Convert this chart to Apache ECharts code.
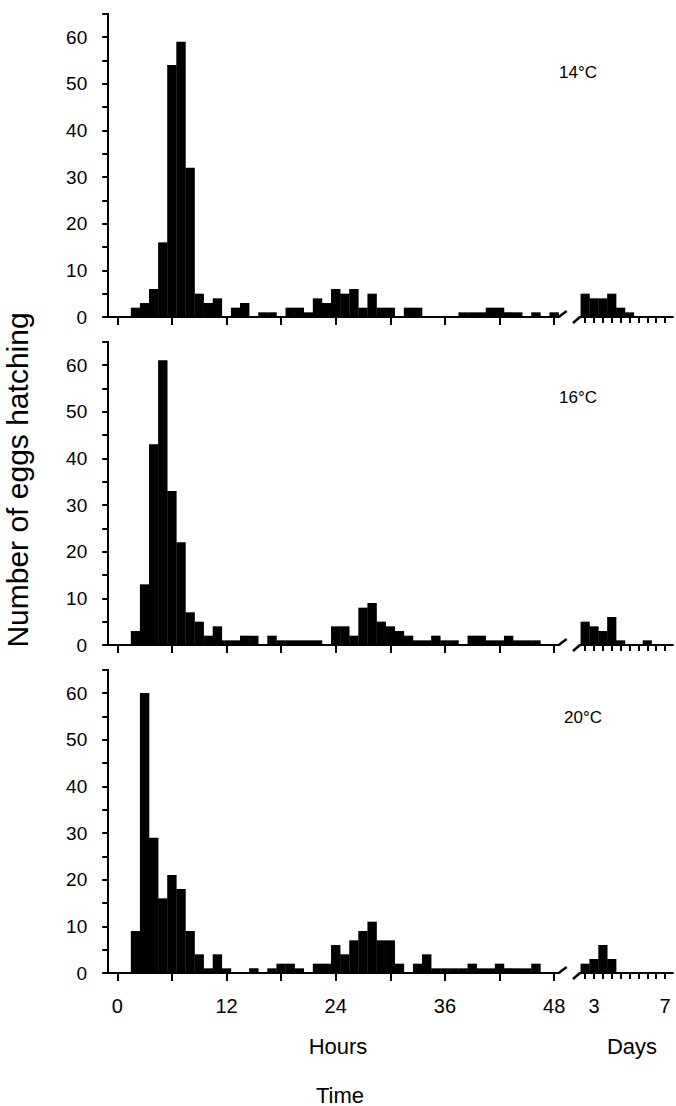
<!DOCTYPE html>
<html>
<head>
<meta charset="utf-8">
<script src="https://cdn.jsdelivr.net/npm/echarts@6/dist/echarts.min.js"></script>
<style>
  html, body { margin: 0; padding: 0; background: #fff; }
  #chart { width: 676px; height: 1106px; }
</style>
</head>
<body>
<div id="chart"></div>
<script>
(function() {
  var font = '"Liberation Sans", Arial, sans-serif';
  var ink = '#000';

  // hourly bins (centred on the hour)
  var hourBins = [0, 1, 2, 3, 4, 5, 6, 7, 8, 9, 10, 11, 12, 13, 14, 15, 16, 17, 18, 19, 20,
    21, 22, 23, 24, 25, 26, 27, 28, 29, 30, 31, 32, 33, 34, 35, 36, 37, 38, 39, 40,
    41, 42, 43, 44, 45, 46, 47, 48];
  var hours14 = [0, 0, 2, 3, 6, 16, 54, 59, 32, 5, 3, 4, 0, 2, 3, 0, 1, 1, 0, 2, 2,
    1, 4, 3, 6, 5, 6, 2, 5, 2, 2, 0, 2, 2, 0, 0, 0, 0, 1, 1, 1,
    2, 2, 1, 1, 0, 1, 0, 1];
  var hours16 = [0, 0, 3, 13, 43, 61, 33, 22, 7, 5, 2, 4, 1, 1, 2, 2, 0, 2, 1, 1, 1,
    1, 1, 0, 4, 4, 2, 8, 9, 5, 4, 3, 2, 1, 1, 2, 1, 1, 0, 2, 2,
    1, 1, 2, 1, 1, 1, 0, 0];
  var hours20 = [0, 0, 9, 60, 29, 16, 21, 18, 9, 4, 1, 4, 1, 0, 0, 1, 0, 1, 2, 2, 1,
    0, 2, 2, 6, 4, 7, 9, 11, 7, 7, 2, 0, 2, 4, 1, 1, 1, 1, 2, 1,
    1, 2, 1, 1, 1, 2, 0, 0];

  // half-day bins after the axis break
  var dayBins = [2.5, 3, 3.5, 4, 4.5, 5, 5.5, 6, 6.5, 7];
  var days14 = [5, 4, 4, 5, 2, 1, 0, 0, 0, 0];
  var days16 = [5, 4, 3, 6, 1, 0, 0, 1, 0, 0];
  var days20 = [2, 3, 6, 3, 0, 0, 0, 0, 0, 0];

  var hourTicks = [0, 6, 12, 18, 24, 30, 36, 42, 48];
  var hourLabels = [0, 12, 24, 36, 48];
  var dayTicks = [2.5, 3, 3.5, 4, 4.5, 5, 5.5, 6, 6.5, 7];
  var dayLabels = [3, 7];
  var temps = ['14°C', '16°C', '20°C'];

  var panels = [
    { top: 13.7, hours: hours14, days: days14, label: [578, 72] },
    { top: 341.7, hours: hours16, days: days16, label: [578, 397] },
    { top: 669.7, hours: hours20, days: days20, label: [583, 717] }
  ];
  var panelHeight = 303.3;

  function pairs(xs, ys) {
    return xs.map(function(x, k) { return [x, ys[k]]; });
  }

  var grids = [], xAxes = [], yAxes = [], series = [];
  panels.forEach(function(p, i) {
    var last = i === panels.length - 1;
    grids.push({ left: 108.2, width: 450.5, top: p.top, height: panelHeight });
    grids.push({ left: 580, width: 93, top: p.top, height: panelHeight });

    xAxes.push({
      type: 'value', gridIndex: 2 * i, min: -1, max: 48.5,
      axisLine: { onZero: false, lineStyle: { color: ink, width: 2 } },
      axisTick: { customValues: hourTicks, length: 8, lineStyle: { color: ink, width: 2 } },
      axisLabel: { show: last, customValues: hourLabels, color: ink, fontSize: 20,
        fontFamily: font, margin: 23 },
      splitLine: { show: false }
    });
    xAxes.push({
      type: 'value', gridIndex: 2 * i + 1, min: 2.21, max: 7.45,
      axisLine: { onZero: false, lineStyle: { color: ink, width: 2 } },
      axisTick: { customValues: dayTicks, length: 6, lineStyle: { color: ink, width: 2 } },
      axisLabel: { show: last, customValues: dayLabels, color: ink, fontSize: 20,
        fontFamily: font, margin: 23 },
      splitLine: { show: false }
    });

    yAxes.push({
      type: 'value', gridIndex: 2 * i, min: 0, max: 65, interval: 5,
      axisLine: { show: true, onZero: false, lineStyle: { color: ink, width: 2 } },
      axisTick: { show: true, length: 6, lineStyle: { color: ink, width: 2 } },
      axisLabel: {
        color: ink, fontSize: 19, fontFamily: font, margin: 21,
        formatter: function(v) { return v % 10 === 0 ? String(v) : ''; }
      },
      splitLine: { show: false }
    });
    yAxes.push({ type: 'value', gridIndex: 2 * i + 1, min: 0, max: 65, show: false });

    series.push({
      type: 'bar', xAxisIndex: 2 * i, yAxisIndex: 2 * i, barWidth: 9.4,
      itemStyle: { color: ink }, silent: true, data: pairs(hourBins, p.hours)
    });
    series.push({
      type: 'bar', xAxisIndex: 2 * i + 1, yAxisIndex: 2 * i + 1, barWidth: 9.2,
      itemStyle: { color: ink }, silent: true, data: pairs(dayBins, p.days)
    });
  });

  function text(id, str, x, y, size, rot) {
    return {
      type: 'text', id: id, x: x, y: y, rotation: rot || 0, silent: true,
      style: {
        text: str, fill: ink, fontSize: size, fontFamily: font,
        textAlign: 'center', align: 'center',
        textVerticalAlign: 'middle', verticalAlign: 'middle'
      }
    };
  }

  var graphics = [
    text('ytitle', 'Number of eggs hatching', 17, 480, 30, Math.PI / 2),
    text('hours', 'Hours', 338, 1046, 22),
    text('days', 'Days', 632, 1046, 22),
    text('time', 'Time', 340, 1095, 22)
  ];
  panels.forEach(function(p, i) {
    graphics.push(text('temp' + i, temps[i], p.label[0], p.label[1], 17));
  });

  var chart = echarts.init(document.getElementById('chart'), null, { renderer: 'svg' });
  chart.setOption({
    animation: false,
    backgroundColor: '#fff',
    grid: grids,
    xAxis: xAxes,
    yAxis: yAxes,
    series: series,
    graphic: graphics
  });

  // axis break marks between hours and days
  var breaks = [];
  panels.forEach(function(p, i) {
    var end = chart.convertToPixel({ gridIndex: 2 * i }, [48.5, 0]);
    var start = chart.convertToPixel({ gridIndex: 2 * i + 1 }, [2.21, 0]);
    breaks.push({
      type: 'line', id: 'brA' + i, silent: true,
      shape: { x1: end[0], y1: end[1], x2: end[0] + 8, y2: end[1] - 6 },
      style: { stroke: ink, lineWidth: 2.5 }
    });
    breaks.push({
      type: 'line', id: 'brB' + i, silent: true,
      shape: { x1: start[0] - 7, y1: start[1] + 6, x2: start[0], y2: start[1] },
      style: { stroke: ink, lineWidth: 2.5 }
    });
  });
  chart.setOption({ graphic: breaks });
})();
</script>
</body>
</html>
